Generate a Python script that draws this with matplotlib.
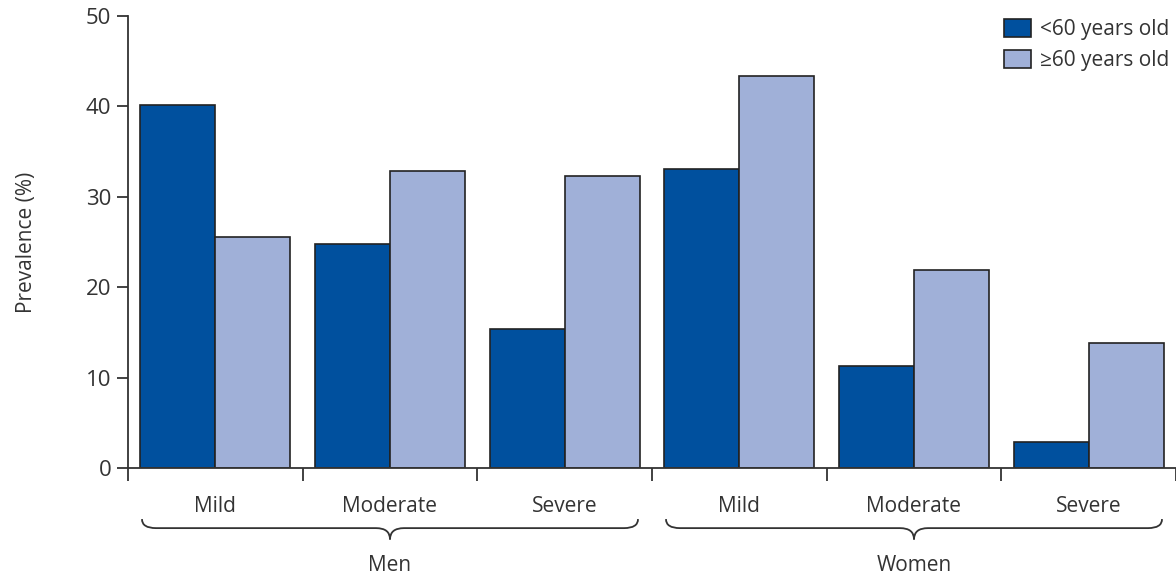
import matplotlib
matplotlib.use("Agg")
from matplotlib import pyplot as plt
from matplotlib.path import Path
from matplotlib.patches import PathPatch, Patch
import numpy as np

plt.rcParams['font.family'] = ['Open Sans', 'DejaVu Sans']

# data
categories = ["Mild", "Moderate", "Severe", "Mild", "Moderate", "Severe"]
groups = ["Men", "Women"]
under60 = [40.2, 24.8, 15.4, 33.1, 11.3, 2.9]
over60 = [25.6, 32.9, 32.3, 43.4, 21.9, 13.8]
series_names = ["<60 years old", "\u226560 years old"]

dark = "#00509e"
light = "#a0b0d8"
ink = "#333333"

fig = plt.figure(figsize=(11.76, 5.8), dpi=100)
ax = fig.add_axes([128 / 1176, 112 / 580, 1048 / 1176, 452 / 580])

x = np.arange(len(categories)) + 0.5
w = 0.43
ax.bar(x - w / 2, under60, w, color=dark, edgecolor="#222222", linewidth=1.2)
ax.bar(x + w / 2, over60, w, color=light, edgecolor="#222222", linewidth=1.2)

ax.set_xlim(0, 6)
ax.set_ylim(0, 50)
ax.set_yticks([0, 10, 20, 30, 40, 50])
ax.tick_params(axis="y", labelsize=16, colors=ink, length=8, width=1.3, pad=4)
ax.set_xticks(x)
ax.set_xticklabels(categories)
ax.set_xticks(np.arange(0, 7), minor=True)
ax.tick_params(axis="x", which="major", length=0, labelsize=15, colors=ink, pad=20)
ax.tick_params(axis="x", which="minor", length=9, width=1.3, color=ink)
for lab in ax.get_yticklabels() + ax.get_xticklabels():
    lab.set_color(ink)

for s in ["top", "right"]:
    ax.spines[s].set_visible(False)
for s in ["left", "bottom"]:
    ax.spines[s].set_color(ink)
    ax.spines[s].set_linewidth(1.3)

ax.set_ylabel("Prevalence (%)", fontsize=15, color=ink)
ax.yaxis.set_label_coords(-0.087, 0.5)


def brace(x0, x1, y_end, y_line, y_tip, r=0.08):
    xm = (x0 + x1) / 2
    verts = [(x0, y_end), (x0, y_line), (x0 + r, y_line),
             (xm - r, y_line), (xm, y_line), (xm, y_tip),
             (xm, y_line), (xm + r, y_line),
             (x1 - r, y_line), (x1, y_line), (x1, y_end)]
    codes = [Path.MOVETO, Path.CURVE3, Path.CURVE3,
             Path.LINETO, Path.CURVE3, Path.CURVE3,
             Path.CURVE3, Path.CURVE3,
             Path.LINETO, Path.CURVE3, Path.CURVE3]
    p = PathPatch(Path(verts, codes), transform=ax.get_xaxis_transform(),
                  fill=False, edgecolor=ink, linewidth=1.3, clip_on=False)
    ax.add_patch(p)


for i, g in enumerate(groups):
    c = 1.5 + 3 * i
    brace(c - 1.42, c + 1.42, -0.113, -0.133, -0.158)
    ax.text(c, -0.215, g, transform=ax.get_xaxis_transform(), ha="center",
            va="center", fontsize=15, color=ink)

handles = [Patch(facecolor=dark, edgecolor="#222222", linewidth=1.2),
           Patch(facecolor=light, edgecolor="#222222", linewidth=1.2)]
fig.legend(handles, series_names, loc="upper right", bbox_to_anchor=(1.01, 1.0),
           frameon=False, fontsize=15, handlelength=1.3, handleheight=0.95,
           handletextpad=0.4, labelspacing=0.5, labelcolor=ink)

fig.savefig("out.png", dpi=100)
